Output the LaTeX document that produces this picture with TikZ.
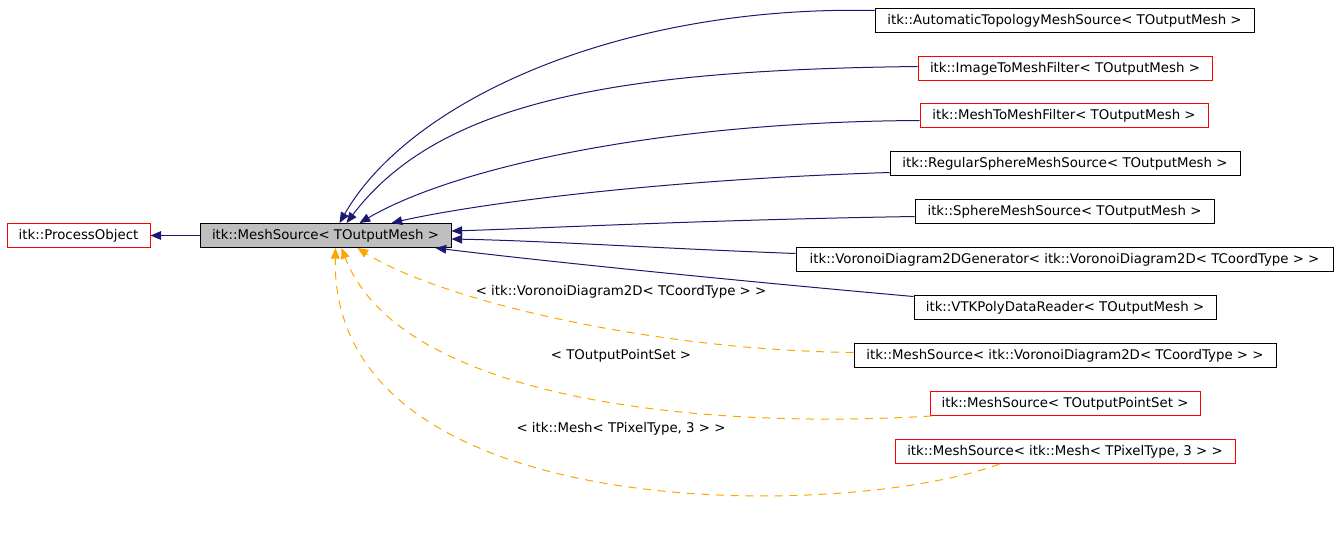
\documentclass[tikz,border=0pt]{standalone}
\usepackage{fontspec}
\setmainfont{DejaVu Sans}
\usepackage{tikz}
\usetikzlibrary{arrows.meta, calc}
\definecolor{inhBlue}{RGB}{25, 25, 112}
\definecolor{tplOrange}{RGB}{255, 165, 0}
\definecolor{curGray}{RGB}{191, 191, 191}
\definecolor{boxRed}{RGB}{255, 0, 0}

\begin{document}
\begin{tikzpicture}[x=0.75pt, y=-0.75pt, font=\fontsize{10pt}{12pt}\selectfont,
  cls/.style={draw=black, line width=0.75pt, inner sep=0pt, minimum height=18pt,
              text height=7.5pt, text depth=2pt, minimum width={#1*0.75pt}},
  clsred/.style={cls=#1, draw=boxRed},
  inh/.style={draw=inhBlue, line width=0.75pt, -{Triangle[length=8pt, width=6.5pt]}},
  tpl/.style={draw=tplOrange, line width=0.75pt, dash pattern=on 6pt off 5pt,
              -{Triangle[length=8pt, width=6.5pt]}},
  lbl/.style={inner sep=0pt, text height=7.5pt, text depth=2pt}]

  \useasboundingbox (0,0) rectangle (1339,535);

  % base and current class
  \node[clsred=143] (proc) at (78.5,235.5) {itk::ProcessObject};
  \node[cls=251, fill=curGray] (src) at (325.5,235.5) {itk::MeshSource< TOutputMesh >};

  % derived classes
  \node[cls=379]    (auto)   at (1064.5,20.5)  {itk::AutomaticTopologyMeshSource< TOutputMesh >};
  \node[clsred=294] (img)    at (1065,68.5)    {itk::ImageToMeshFilter< TOutputMesh >};
  \node[clsred=288] (m2m)    at (1064,115.5)   {itk::MeshToMeshFilter< TOutputMesh >};
  \node[cls=350]    (regsph) at (1065,163.5)   {itk::RegularSphereMeshSource< TOutputMesh >};
  \node[cls=299]    (sph)    at (1064.5,211.5) {itk::SphereMeshSource< TOutputMesh >};
  \node[cls=537]    (vorgen) at (1064.5,259.5) {itk::VoronoiDiagram2DGenerator< itk::VoronoiDiagram2D< TCoordType > >};
  \node[cls=302]    (vtk)    at (1065,307.5)   {itk::VTKPolyDataReader< TOutputMesh >};

  % template instances
  \node[cls=422]    (msvor)  at (1065,355.5)   {itk::MeshSource< itk::VoronoiDiagram2D< TCoordType > >};
  \node[clsred=270] (mspts)  at (1065,403.5)   {itk::MeshSource< TOutputPointSet >};
  \node[clsred=340] (msmesh) at (1065,451.5)   {itk::MeshSource< itk::Mesh< TPixelType, 3 > >};

  \draw[inh] (src.west) -- (proc.east);

  \draw[inh] ($(auto.west)+(0,-10)$) .. controls (620,5) and (410,100) .. ($(src.north west)+(140,0)$);
  \draw[inh] ($(img.west)+(0,-2)$) .. controls (620,70) and (440,100) .. ($(src.north west)+(147,0)$);
  \draw[inh] ($(m2m.west)+(0,5)$) .. controls (650,122) and (450,170) .. ($(src.north west)+(160,0)$);
  \draw[inh] ($(regsph.west)+(0,9)$) .. controls (650,180) and (470,205) .. ($(src.north west)+(192,0)$);
  \draw[inh] ($(sph.west)+(0,5)$) .. controls (700,220) and (550,228) .. ($(src.east)+(0,-4.5)$);
  \draw[inh] ($(vorgen.west)+(0,-6)$) .. controls (650,248) and (550,241) .. ($(src.east)+(0,3.5)$);
  \draw[inh] ($(vtk.west)+(0,-11)$) .. controls (750,282) and (550,262) .. ($(src.south east)+(-16,0)$);

  \draw[tpl] ($(msvor.west)+(0,-3)$) .. controls (650,350) and (440,300) .. ($(src.south west)+(158,0)$);
  \draw[tpl] ($(mspts.south west)+(2,0)$) .. controls (700,430) and (400,400) .. ($(src.south west)+(142,0)$);
  \draw[tpl] ($(msmesh.south west)+(105,0)$) .. controls (850,520) and (330,530) .. ($(src.south west)+(136,0)$);

  \node[lbl] (lvor)  at (621,292) {< itk::VoronoiDiagram2D< TCoordType > >};
  \node[lbl] (lpts)  at (621,356) {< TOutputPointSet >};
  \node[lbl] (lmesh) at (621,429) {< itk::Mesh< TPixelType, 3 > >};

\end{tikzpicture}
\end{document}
